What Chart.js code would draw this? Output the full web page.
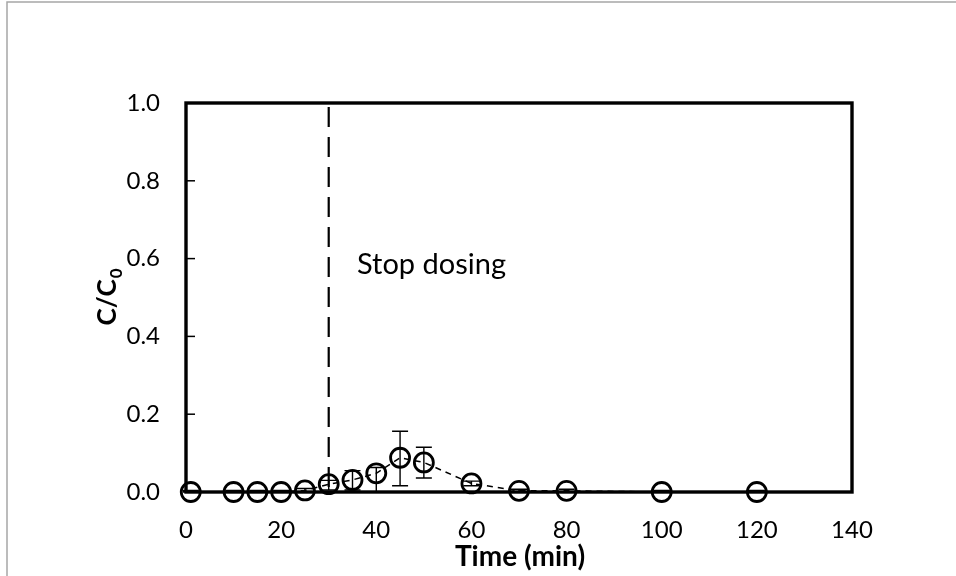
<!DOCTYPE html>
<html>
<head>
<meta charset="utf-8">
<script src="https://cdn.jsdelivr.net/npm/chart.js@4.4.1/dist/chart.umd.min.js"></script>
<style>
html,body{margin:0;padding:0;background:#fff;}
#wrap{width:956px;height:576px;position:relative;}
</style>
</head>
<body>
<div id="wrap"><canvas id="c" width="956" height="576"></canvas></div>
<script>
// ---- data ----
const time = [1, 10, 15, 20, 25, 30, 35, 40, 45, 50, 60, 70, 80, 100, 120];
const cc0 = [0, 0, 0, 0, 0.004, 0.02, 0.031, 0.048, 0.088, 0.076, 0.022, 0.003, 0.003, 0, 0];
const errPlus = [0.004, 0.004, 0.004, 0.004, 0.005, 0.01, 0.024, 0.015, 0.068, 0.039, 0.006, 0.004, 0.004, 0.004, 0.004];
const errMinus = [0.004, 0.004, 0.004, 0.004, 0.005, 0.015, 0.026, 0.047, 0.072, 0.04, 0.006, 0.004, 0.004, 0.004, 0.004];
const xTicks = [0, 20, 40, 60, 80, 100, 120, 140];
const yTicks = [0, 0.2, 0.4, 0.6, 0.8, 1.0];
const stopDosingTime = 30;
const annotationText = 'Stop dosing';
const xTitle = 'Time (min)';

const FONT = 'Lato, "Open Sans", sans-serif';

const plugin = {
  id: 'extras',
  beforeDraw(chart) {
    const ctx = chart.ctx;
    ctx.save();
    ctx.fillStyle = '#fff';
    ctx.fillRect(0, 0, chart.width, chart.height);
    ctx.strokeStyle = '#a6a6a6';
    ctx.lineWidth = 1.5;
    ctx.beginPath();
    ctx.moveTo(7, 576);
    ctx.lineTo(7, 2);
    ctx.lineTo(956, 2);
    ctx.stroke();
    ctx.restore();
  },
  beforeDatasetsDraw(chart) {
    const ctx = chart.ctx;
    const xs = chart.scales.x, ys = chart.scales.y;
    const a = chart.chartArea;
    ctx.save();
    ctx.strokeStyle = '#000';
    ctx.fillStyle = '#000';
    // vertical dashed line
    const vx = xs.getPixelForValue(stopDosingTime);
    ctx.lineWidth = 2.2;
    ctx.setLineDash([20, 10]);
    ctx.beginPath();
    ctx.moveTo(vx, a.top + 4);
    ctx.lineTo(vx, a.bottom);
    ctx.stroke();
    ctx.setLineDash([]);
    // annotation text
    ctx.font = '29px ' + FONT;
    ctx.textBaseline = 'alphabetic';
    ctx.textAlign = 'left';
    ctx.fillText(annotationText, 357, 274);
    // inner y ticks
    ctx.lineWidth = 1.5;
    for (const v of yTicks) {
      const py = ys.getPixelForValue(v);
      ctx.beginPath();
      ctx.moveTo(a.left, py); ctx.lineTo(a.left + 9, py);
      ctx.stroke();
    }
    // plot border
    ctx.lineWidth = 3.4;
    ctx.strokeRect(a.left, a.top, a.right - a.left, a.bottom - a.top);
    // error bars
    ctx.lineWidth = 1.4;
    for (let i = 0; i < time.length; i++) {
      const px = xs.getPixelForValue(time[i]);
      const top = ys.getPixelForValue(cc0[i] + errPlus[i]);
      const bot = ys.getPixelForValue(Math.max(0, cc0[i] - errMinus[i]));
      ctx.beginPath();
      ctx.moveTo(px, top); ctx.lineTo(px, bot);
      ctx.moveTo(px - 8, top); ctx.lineTo(px + 8, top);
      ctx.moveTo(px - 8, bot); ctx.lineTo(px + 8, bot);
      ctx.stroke();
    }
    ctx.restore();
  },
  afterDatasetsDraw(chart) {
    const ctx = chart.ctx;
    const a = chart.chartArea;
    ctx.save();
    ctx.fillStyle = '#000';
    // x title
    ctx.font = 'bold 28px ' + FONT;
    ctx.textAlign = 'center';
    ctx.textBaseline = 'middle';
    ctx.fillText(xTitle, 520, 557);
    // y title C/C0 rotated
    ctx.translate(116, (a.top + a.bottom) / 2);
    ctx.rotate(-Math.PI / 2);
    ctx.textBaseline = 'alphabetic';
    ctx.textAlign = 'left';
    ctx.font = 'bold 26px ' + FONT;
    const main = 'C/C';
    const w1 = ctx.measureText(main).width;
    ctx.font = 'bold 17px ' + FONT;
    const w2 = ctx.measureText('0').width;
    const total = w1 + w2;
    ctx.font = 'bold 26px ' + FONT;
    ctx.fillText(main, -total / 2, 0);
    ctx.font = 'bold 17px ' + FONT;
    ctx.fillText('0', -total / 2 + w1 + 1, 6);
    ctx.restore();
  }
};

new Chart(document.getElementById('c'), {
  type: 'scatter',
  data: {
    datasets: [{
      data: time.map((t, i) => ({ x: t, y: cc0[i] })),
      showLine: true,
      clip: false,
      borderColor: '#000',
      borderWidth: 1.5,
      borderDash: [6, 5],
      pointRadius: 9.5,
      pointHoverRadius: 9.5,
      pointBorderWidth: 2.8,
      pointBorderColor: '#000',
      pointBackgroundColor: 'rgba(0,0,0,0)',
      tension: 0
    }]
  },
  options: {
    responsive: false,
    animation: false,
    devicePixelRatio: 1,
    layout: { padding: { top: 103, right: 104, left: 0, bottom: 0 } },
    plugins: { legend: { display: false }, tooltip: { enabled: false } },
    scales: {
      x: {
        type: 'linear', min: 0, max: 140,
        afterBuildTicks(s) { s.ticks = xTicks.map(v => ({ value: v })); },
        afterFit(s) { s.height = 84; },
        grid: { display: false, drawTicks: false },
        border: { display: false },
        ticks: { padding: 24, color: '#000', font: { family: FONT, size: 24 } }
      },
      y: {
        type: 'linear', min: 0, max: 1.0,
        afterBuildTicks(s) { s.ticks = yTicks.map(v => ({ value: v })); },
        afterFit(s) { s.width = 186; },
        grid: { display: false, drawTicks: false },
        border: { display: false },
        ticks: { padding: 26, color: '#000', font: { family: FONT, size: 24 },
          callback: v => Number(v).toFixed(1) }
      }
    }
  },
  plugins: [plugin]
});
</script>
</body>
</html>
